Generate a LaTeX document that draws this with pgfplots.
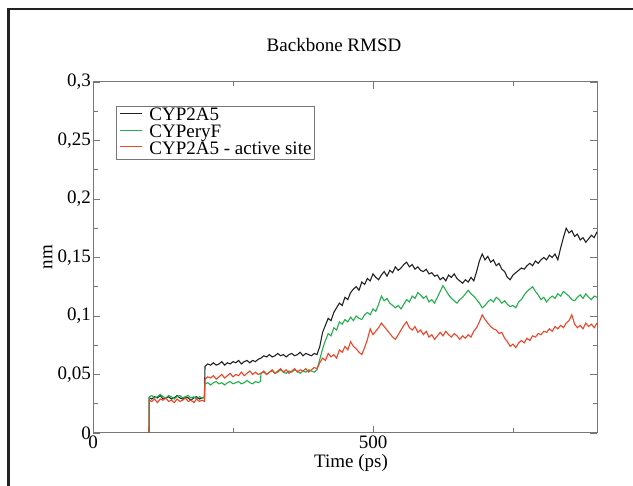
\documentclass[border=0pt]{standalone}
\usepackage{fontspec}
\setmainfont{Liberation Serif}
\usepackage{pgfplots}
\pgfplotsset{compat=1.18}
\definecolor{cblack}{HTML}{222222}
\definecolor{cgreen}{HTML}{22B04B}
\definecolor{cred}{HTML}{F04428}
\definecolor{axgray}{HTML}{777777}

\begin{document}
\fontsize{19}{21}\selectfont
\begin{tikzpicture}
\useasboundingbox (0,0) rectangle (633pt,486pt);
\draw[line width=2.6pt, cblack] (8.5pt,-5pt) -- (8.5pt,477pt) -- (640pt,477pt);
\node at (334pt,441pt) {Backbone RMSD};
\node at (351pt,23pt) {Time (ps)};
\node[rotate=90] at (48pt,229pt) {nm};
\begin{axis}[
  at={(93pt,53pt)}, anchor=south west,
  scale only axis, width=504pt, height=351pt,
  xmin=0, xmax=900, ymin=0, ymax=0.3,
  xtick={0,500}, xticklabels={0,500},
  minor xtick={250,750},
  ytick={0,0.05,0.1,0.15,0.2,0.25,0.3},
  yticklabels={0,{0,05},{0,1},{0,15},{0,2},{0,25},{0,3}},
  minor ytick={0.025,0.075,0.125,0.175,0.225,0.275},
  /pgf/number format/assume math mode=true,
  tick align=inside,
  major tick length=7pt, minor tick length=4.5pt,
  axis line style={axgray, line width=1pt},
  every tick/.style={axgray, line width=0.9pt},
  xticklabel style={anchor=north, inner sep=0pt, yshift=-3pt},
  yticklabel style={anchor=east, inner sep=0pt, xshift=-2pt},
  legend style={at={(0.0456,0.9316)}, anchor=north west,
    draw=axgray, line width=0.8pt, inner xsep=3pt, inner ysep=1.5pt,
    nodes={inner sep=0pt, text height=12.5pt, text depth=4.3pt},
    column sep=7pt, row sep=0pt},
  legend cell align=left,
  legend image code/.code={\draw[#1] (0pt,3pt) -- (22pt,3pt);},
]
\addplot[cblack, line width=1.1pt] coordinates {
(100,0)(100.5,0.030)(105,0.029)(110,0.031)(115,0.030)(120,0.032)(125,0.029)(130,0.030)(135,0.031)(140,0.029)(145,0.030)(150,0.032)(155,0.030)(160,0.029)(165,0.031)(170,0.030)(175,0.028)(180,0.030)(185,0.031)(190,0.029)(195,0.030)(199,0.030)
(200,0.057)(205,0.059)(210,0.058)(215,0.060)(220,0.058)(225,0.059)(230,0.061)(235,0.058)(240,0.060)(245,0.059)(250,0.061)(255,0.060)(260,0.062)(265,0.059)(270,0.061)(275,0.062)(280,0.060)(285,0.062)(290,0.061)(295,0.063)
(300,0.064)(305,0.066)(310,0.065)(315,0.067)(320,0.065)(325,0.066)(330,0.068)(335,0.066)(340,0.067)(345,0.065)(350,0.067)(355,0.068)(360,0.066)(365,0.067)(370,0.069)(375,0.066)(380,0.068)(385,0.067)(390,0.066)(395,0.068)(400,0.067)
(405,0.074)(410,0.086)(415,0.092)(420,0.098)(425,0.096)(430,0.103)(435,0.107)(440,0.111)(445,0.109)(450,0.116)(455,0.114)(460,0.120)(465,0.123)(470,0.125)(475,0.122)(480,0.129)(485,0.127)(490,0.132)(495,0.130)(500,0.136)
(505,0.133)(510,0.131)(515,0.135)(520,0.138)(525,0.134)(530,0.139)(535,0.137)(540,0.142)(545,0.139)(550,0.141)(555,0.144)(560,0.146)(565,0.142)(570,0.144)(575,0.140)(580,0.142)(585,0.139)(590,0.138)(595,0.140)(600,0.136)
(605,0.137)(610,0.134)(615,0.135)(620,0.131)(625,0.133)(630,0.130)(635,0.135)(640,0.133)(645,0.136)(650,0.132)(655,0.130)(660,0.128)(665,0.131)(670,0.129)(675,0.133)(680,0.130)(685,0.138)(690,0.147)(695,0.153)(700,0.148)
(705,0.151)(710,0.146)(715,0.148)(720,0.143)(725,0.145)(730,0.140)(735,0.138)(740,0.133)(745,0.131)(750,0.135)(755,0.137)(760,0.139)(765,0.141)(770,0.140)(775,0.143)(780,0.145)(785,0.143)(790,0.147)(795,0.145)(800,0.148)
(805,0.150)(810,0.148)(815,0.152)(820,0.150)(825,0.153)(830,0.148)(835,0.158)(840,0.167)(845,0.175)(850,0.171)(855,0.173)(860,0.168)(865,0.170)(870,0.165)(875,0.167)(880,0.163)(885,0.166)(890,0.169)(895,0.167)(900,0.172)
};
\addlegendentry{CYP2A5}
\addplot[cgreen, line width=1.1pt] coordinates {
(100,0)(100.5,0.031)(105,0.032)(110,0.030)(115,0.031)(120,0.033)(125,0.031)(130,0.030)(135,0.032)(140,0.031)(145,0.029)(150,0.031)(155,0.032)(160,0.030)(165,0.031)(170,0.032)(175,0.030)(180,0.031)(185,0.029)(190,0.031)(195,0.030)(199,0.031)
(200,0.042)(205,0.043)(210,0.041)(215,0.043)(220,0.044)(225,0.042)(230,0.043)(235,0.041)(240,0.043)(245,0.044)(250,0.042)(255,0.043)(260,0.044)(265,0.042)(270,0.043)(275,0.045)(280,0.043)(285,0.042)(290,0.044)(295,0.043)(299,0.044)
(300,0.051)(305,0.052)(310,0.050)(315,0.052)(320,0.053)(325,0.051)(330,0.052)(335,0.054)(340,0.052)(345,0.051)(350,0.053)(355,0.052)(360,0.054)(365,0.053)(370,0.051)(375,0.053)(380,0.052)(385,0.054)(390,0.053)(395,0.052)(400,0.054)
(405,0.063)(410,0.072)(415,0.079)(420,0.085)(425,0.083)(430,0.090)(435,0.088)(440,0.095)(445,0.093)(450,0.097)(455,0.095)(460,0.099)(465,0.096)(470,0.100)(475,0.098)(480,0.097)(485,0.101)(490,0.103)(495,0.101)(500,0.106)
(505,0.104)(510,0.110)(515,0.117)(520,0.113)(525,0.115)(530,0.111)(535,0.109)(540,0.107)(545,0.109)(550,0.106)(555,0.110)(560,0.114)(565,0.112)(570,0.117)(575,0.115)(580,0.120)(585,0.118)(590,0.115)(595,0.117)(600,0.112)
(605,0.114)(610,0.111)(615,0.116)(620,0.121)(625,0.126)(630,0.122)(635,0.118)(640,0.115)(645,0.113)(650,0.111)(655,0.114)(660,0.116)(665,0.119)(670,0.122)(675,0.119)(680,0.117)(685,0.114)(690,0.111)(695,0.107)(700,0.109)
(705,0.112)(710,0.114)(715,0.112)(720,0.116)(725,0.114)(730,0.111)(735,0.113)(740,0.110)(745,0.108)(750,0.109)(755,0.107)(760,0.112)(765,0.114)(770,0.118)(775,0.121)(780,0.123)(785,0.125)(790,0.121)(795,0.118)(800,0.114)
(805,0.116)(810,0.112)(815,0.115)(820,0.117)(825,0.115)(830,0.119)(835,0.117)(840,0.121)(845,0.119)(850,0.117)(855,0.114)(860,0.113)(865,0.116)(870,0.118)(875,0.115)(880,0.119)(885,0.116)(890,0.114)(895,0.117)(900,0.116)
};
\addlegendentry{CYPeryF}
\addplot[cred, line width=1.1pt] coordinates {
(100,0)(100.5,0.028)(105,0.027)(110,0.029)(115,0.026)(120,0.029)(125,0.028)(130,0.030)(135,0.027)(140,0.028)(145,0.026)(150,0.029)(155,0.027)(160,0.028)(165,0.030)(170,0.027)(175,0.028)(180,0.026)(185,0.029)(190,0.027)(195,0.028)(199,0.027)
(200,0.046)(205,0.048)(210,0.047)(215,0.049)(220,0.046)(225,0.048)(230,0.050)(235,0.047)(240,0.049)(245,0.051)(250,0.048)(255,0.050)(260,0.049)(265,0.052)(270,0.049)(275,0.051)(280,0.053)(285,0.050)(290,0.052)(295,0.050)
(300,0.051)(305,0.053)(310,0.050)(315,0.052)(320,0.054)(325,0.051)(330,0.053)(335,0.055)(340,0.052)(345,0.054)(350,0.051)(355,0.053)(360,0.055)(365,0.052)(370,0.054)(375,0.053)(380,0.055)(385,0.052)(390,0.054)(395,0.056)(400,0.055)
(405,0.060)(410,0.064)(415,0.062)(420,0.068)(425,0.065)(430,0.067)(435,0.064)(440,0.071)(445,0.069)(450,0.074)(455,0.071)(460,0.078)(465,0.074)(470,0.072)(475,0.069)(480,0.067)(485,0.073)(490,0.080)(495,0.089)(500,0.084)
(505,0.087)(510,0.090)(515,0.094)(520,0.091)(525,0.088)(530,0.085)(535,0.082)(540,0.080)(545,0.084)(550,0.088)(555,0.092)(560,0.095)(565,0.090)(570,0.088)(575,0.091)(580,0.086)(585,0.088)(590,0.084)(595,0.087)(600,0.082)
(605,0.084)(610,0.080)(615,0.083)(620,0.086)(625,0.083)(630,0.087)(635,0.084)(640,0.082)(645,0.085)(650,0.083)(655,0.080)(660,0.083)(665,0.081)(670,0.084)(675,0.082)(680,0.087)(685,0.090)(690,0.095)(695,0.101)(700,0.097)
(705,0.094)(710,0.091)(715,0.089)(720,0.088)(725,0.085)(730,0.086)(735,0.081)(740,0.078)(745,0.074)(750,0.076)(755,0.073)(760,0.077)(765,0.079)(770,0.077)(775,0.081)(780,0.079)(785,0.083)(790,0.082)(795,0.085)(800,0.084)
(805,0.087)(810,0.086)(815,0.089)(820,0.087)(825,0.091)(830,0.089)(835,0.092)(840,0.090)(845,0.094)(850,0.096)(855,0.101)(860,0.093)(865,0.090)(870,0.092)(875,0.089)(880,0.094)(885,0.091)(890,0.093)(895,0.090)(900,0.094)
};
\addlegendentry{CYP2A5 - active site}
\end{axis}
\end{tikzpicture}
\end{document}
